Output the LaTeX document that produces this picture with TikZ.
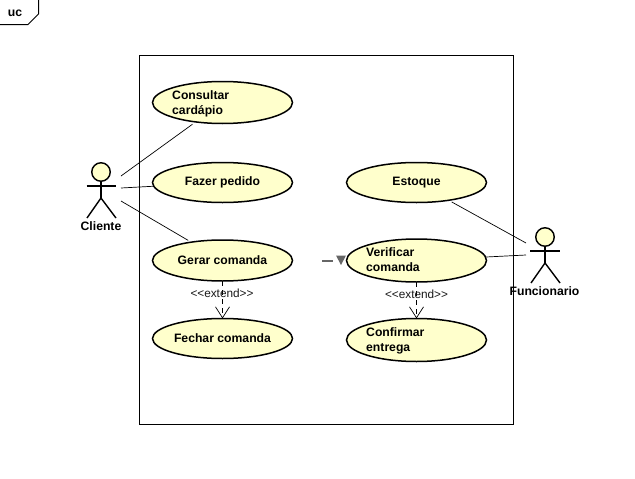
\documentclass[tikz,border=0pt]{standalone}
\usepackage{fontspec}
\setmainfont{Liberation Sans}
\usetikzlibrary{shapes.geometric,arrows.meta}
\definecolor{ucfill}{HTML}{FFFFCC}
\definecolor{markgray}{HTML}{666666}
\tikzset{
  uc/.style={draw=black,line width=1.5pt,fill=ucfill,ellipse,minimum width=140pt,minimum height=#1,inner sep=0pt,outer sep=0pt,font=\fontsize{12.2}{14}\bfseries\selectfont,text=black},
  uctext/.style={inner sep=0pt,anchor=west,align=left,font=\fontsize{12.2}{15}\bfseries\selectfont},
  assoc/.style={draw=black,line width=0.7pt},
  ext/.style={draw=black,line width=0.7pt,dash pattern=on 5pt off 4pt,-{Straight Barb[length=11pt,width=14pt,line width=0.7pt]}},
  extlabel/.style={inner sep=0pt,font=\fontsize{11.8}{12}\selectfont,text=black!90},
  actorline/.style={draw=black,line width=1.4pt},
  actorname/.style={inner sep=0pt,font=\fontsize{12.2}{14}\bfseries\selectfont},
  actorhead/.style={circle,draw=black,line width=1.4pt,fill=ucfill,minimum size=18.5pt,inner sep=0pt,outer sep=0pt},
}
\begin{document}
\begin{tikzpicture}[x=1pt,y=-1pt]
\useasboundingbox (0,0) rectangle (635,479);
\fill[white] (0,0) rectangle (635,479);
% frame
\draw[black,line width=1pt] (139.5,55.5) rectangle (513.5,424.5);
\draw[black,line width=1pt] (0,24.5) -- (28,24.5) -- (38.5,14) -- (38.5,0);
\node[inner sep=0pt,font=\fontsize{12.2}{14}\bfseries\selectfont] (uclabel) at (15,13) {uc};
% use cases
\node[uc=42pt] (consultar) at (222.5,102.5) {};
\node[uctext] (consultartext) at (172,104) {Consultar\\cardápio};
\node[uc=40pt] (fazer) at (222.5,182.5) {Fazer pedido};
\node[uc=41pt] (gerar) at (222.5,260.5) {Gerar comanda};
\node[uc=40pt] (fechar) at (222.5,338.5) {Fechar comanda};
\node[uc=40pt] (estoque) at (416.5,182.5) {Estoque};
\node[uc=43pt] (verificar) at (416.5,260.5) {};
\node[uctext] (verificartext) at (366,260) {Verificar\\comanda};
\node[uc=43pt] (confirmar) at (416.5,340) {};
\node[uctext] (confirmartext) at (366,341) {Confirmar\\entrega};
% actor: Cliente
\node[actorhead] (clientehead) at (101,172) {};
\coordinate (clientehip) at (101,198);
\coordinate (clientearml) at (86.5,186);
\coordinate (clientearmr) at (116,186);
\coordinate (clientefootl) at (87,218);
\coordinate (clientefootr) at (116,218);
\draw[actorline] (clientehead) -- (clientehip);
\draw[actorline] (clientearml) -- (clientearmr);
\draw[actorline] (clientefootl) -- (clientehip) -- (clientefootr);
\node[actorname] (clientename) at (101,226) {Cliente};
% actor: Funcionario
\node[actorhead] (funchead) at (545,237) {};
\coordinate (funchip) at (545,263);
\coordinate (funcarml) at (530,251);
\coordinate (funcarmr) at (560,251);
\coordinate (funcfootl) at (531,283);
\coordinate (funcfootr) at (560,283);
\draw[actorline] (funchead) -- (funchip);
\draw[actorline] (funcarml) -- (funcarmr);
\draw[actorline] (funcfootl) -- (funchip) -- (funcfootr);
\node[actorname] (funcname) at (544.5,291) {Funcionario};
% associations
\coordinate (cl1) at (121,176);
\coordinate (cl2) at (121,188);
\coordinate (cl3) at (121,201);
\coordinate (fu1) at (526,243);
\coordinate (fu2) at (526,255);
\draw[assoc,shorten >=4pt] (cl1) -- (consultar);
\draw[assoc] (cl2) -- (fazer);
\draw[assoc,shorten >=3.5pt] (cl3) -- (gerar);
\draw[assoc,shorten >=3.5pt] (fu1) -- (estoque);
\draw[assoc] (fu2) -- (verificar);
% extend
\draw[ext] (gerar) -- (fechar);
\node[extlabel] (extleft) at (222,293) {<{}<extend>{}>};
\draw[ext] (verificar) -- (confirmar);
\node[extlabel] (extright) at (416.5,294) {<{}<extend>{}>};
% direction mark
\draw[markgray,line width=2pt] (322,260.5) -- (333,260.5);
\fill[markgray] (336,255.5) -- (346,255.5) -- (341,265) -- cycle;
\end{tikzpicture}
\end{document}
